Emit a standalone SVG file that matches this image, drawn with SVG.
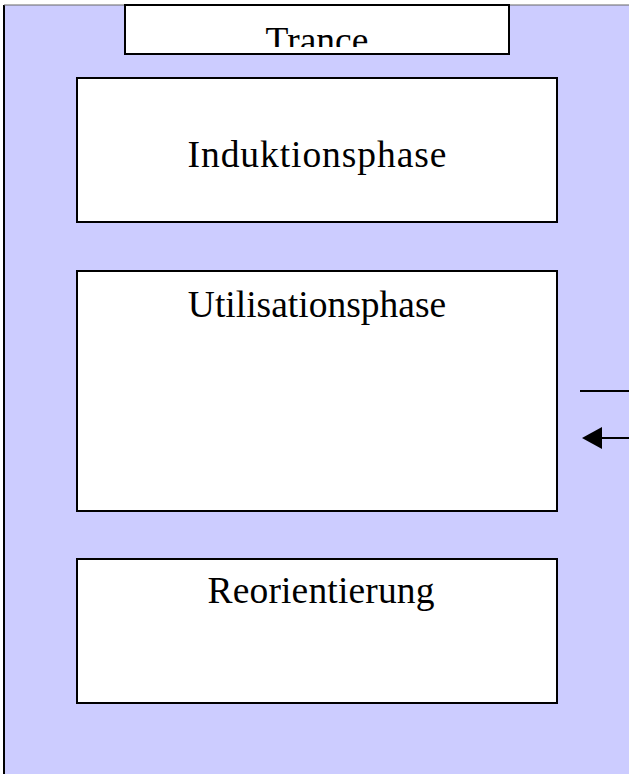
<svg xmlns="http://www.w3.org/2000/svg" width="629" height="774" viewBox="0 0 629 774">
<style>
.box{fill:#fff;stroke:#000;stroke-width:2}
.lbl{font-family:"Liberation Serif","Times New Roman",serif;font-size:37.5px;fill:#000;text-anchor:middle}
.ln{stroke:#000;stroke-width:2;fill:none}
</style>
<defs>
<clipPath id="tc"><rect x="125" y="5" width="384" height="42"/></clipPath>
</defs>
<g id="container">
<rect x="4" y="5" width="640" height="780" fill="#CCCCFF"/>
<line x1="4" y1="5" x2="4" y2="774" stroke="#000" stroke-width="2"/>
<line x1="4" y1="5" x2="629" y2="5" stroke="#666" stroke-width="1"/>
</g>
<g id="trance">
<rect class="box" x="125" y="5" width="384" height="49"/>
<text class="lbl" x="317" y="53" clip-path="url(#tc)">Trance</text>
</g>
<g id="induktion">
<rect class="box" x="77" y="78" width="480" height="144"/>
<text class="lbl" x="317" y="167" textLength="259" lengthAdjust="spacing">Induktionsphase</text>
</g>
<g id="utilisation">
<rect class="box" x="77" y="271" width="480" height="240"/>
<text class="lbl" x="317" y="317">Utilisationsphase</text>
</g>
<g id="reorientierung">
<rect class="box" x="77" y="559" width="480" height="144"/>
<text class="lbl" x="321" y="603" textLength="227" lengthAdjust="spacing">Reorientierung</text>
</g>
<g id="connectors">
<line class="ln" x1="580" y1="391" x2="629" y2="391"/>
<line class="ln" x1="629" y1="438" x2="602" y2="438"/>
<path d="M582,438 L602,427 L602,449 Z" fill="#000"/>
</g>
</svg>
